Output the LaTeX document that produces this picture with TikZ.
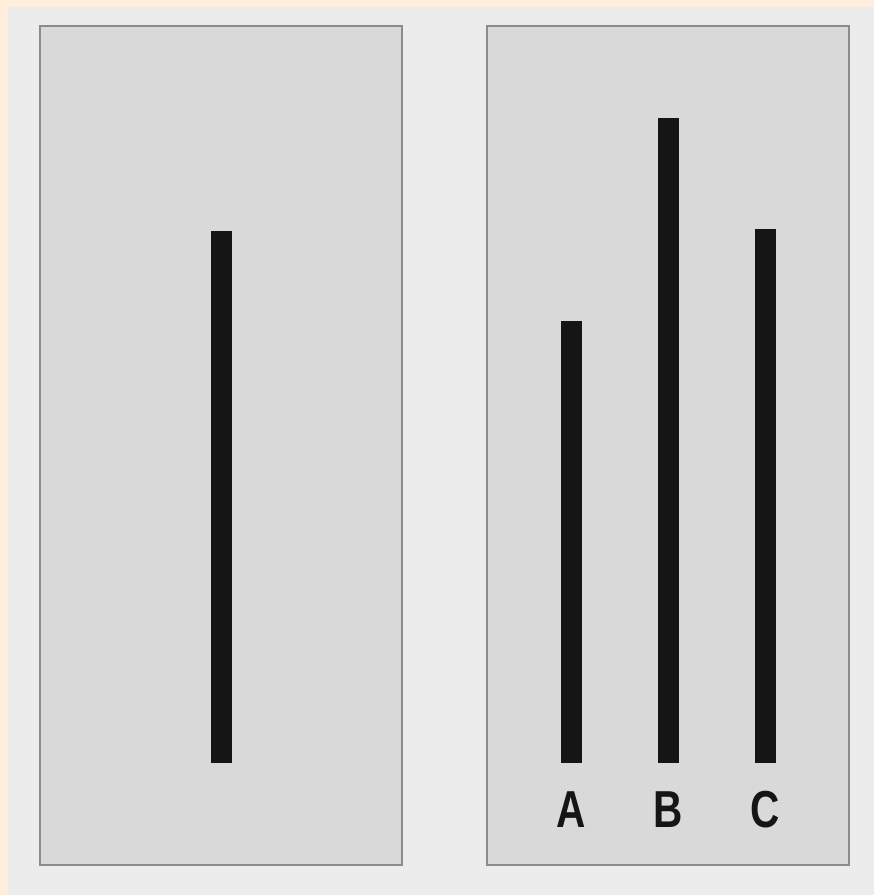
\documentclass[tikz,border=0pt]{standalone}
\usepackage{fontspec}
\setmainfont{Liberation Sans}
\usepackage{xcolor}
\usetikzlibrary{positioning}
\definecolor{cream}{HTML}{FFEEDC}
\definecolor{backgrey}{HTML}{ECECEC}
\definecolor{cardgrey}{HTML}{D9D9D9}
\definecolor{edgegrey}{HTML}{8C8C8C}
\definecolor{barblack}{HTML}{141514}

\begin{document}
\begin{tikzpicture}[x=1pt, y=-1pt,
    card/.style={fill=cardgrey, draw=edgegrey, line width=1.5pt},
    bar/.style={fill=barblack, draw=none},
    letter/.style={text=barblack, inner sep=0pt,
        font=\fontsize{52}{52}\selectfont\bfseries}]
    \useasboundingbox (0,0) rectangle (874,895);
    \fill[cream] (0,0) rectangle (874,895);
    \fill[backgrey] (8,7) rectangle (874,895);
    % the two cards
    \draw[card] (40,26) rectangle (402,865);
    \draw[card] (487,26) rectangle (849,865);
    % standard line
    \fill[bar] (211,231) rectangle (232,763);
    % comparison lines
    \foreach \xl/\top in {561/321, 658/118, 755/229}
        \fill[bar] (\xl,\top) rectangle ({\xl+21},763);
    \node[letter] (labelA) at (571.5,810) {\scalebox{0.78}[1]{A}};
    \node[letter] (labelB) at (668.5,810) {\scalebox{0.78}[1]{B}};
    \node[letter] (labelC) at (765.5,810) {\scalebox{0.78}[1]{C}};
\end{tikzpicture}
\end{document}
